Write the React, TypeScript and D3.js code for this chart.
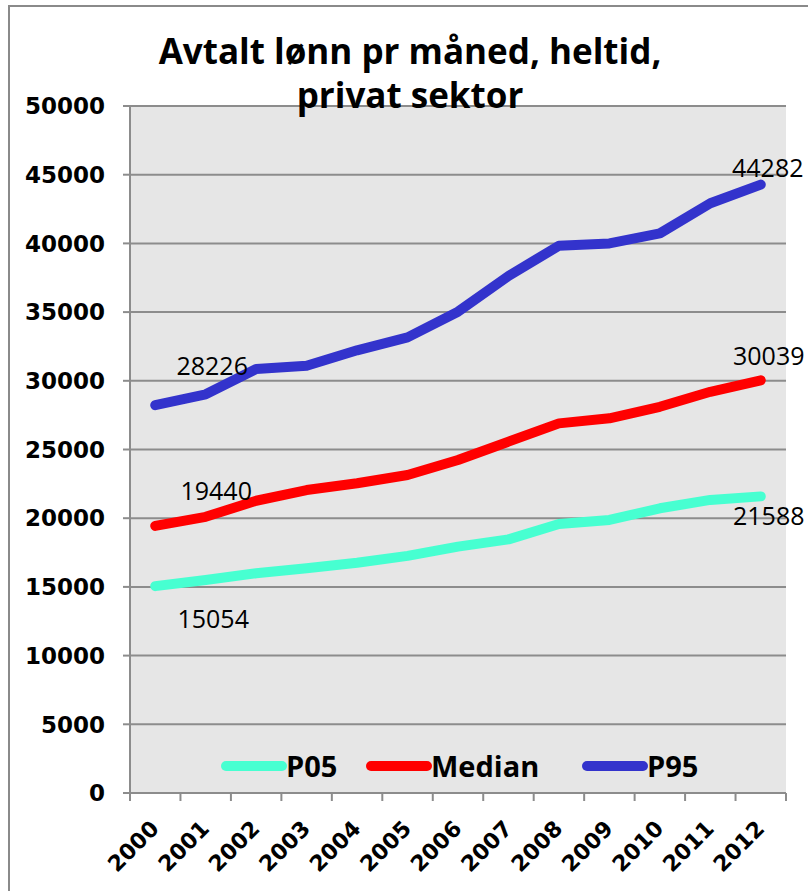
import React from "react";
import * as d3 from "d3";

const years = ["2000","2001","2002","2003","2004","2005","2006","2007","2008","2009","2010","2011","2012"];
const p05 = [15054, 15500, 15990, 16350, 16760, 17260, 17930, 18460, 19580, 19870, 20720, 21330, 21588];
const median = [19440, 20100, 21270, 22050, 22540, 23140, 24240, 25570, 26900, 27270, 28110, 29200, 30039];
const p95 = [28226, 29017, 30860, 31100, 32220, 33160, 35030, 37630, 39830, 40000, 40730, 42920, 44282];
const yTicks = [0, 5000, 10000, 15000, 20000, 25000, 30000, 35000, 40000, 45000, 50000];
const seriesNames = ["P05", "Median", "P95"];
const titleLines = ["Avtalt lønn pr måned, heltid,", "privat sektor"];

const colors = ["#47FFD1", "#FF0000", "#3333CC"];
// label offsets (first, last) relative to point
const firstLabelOffset = [[58, 42], [61, -26], [57, -30]];
const lastLabelOffset = [[8, 29], [8, -15], [7, -8]];
const legendX = [226, 371, 587];

const W = 808, H = 891;
const plot = { left: 130, right: 786, top: 106, bottom: 793 };
const axisFont = "'DejaVu Sans', sans-serif";
const mainFont = "'Open Sans', sans-serif";

export default function App() {
  const x = d3.scaleBand<string>().domain(years).range([plot.left, plot.right]);
  const y = d3.scaleLinear().domain([0, 50000]).range([plot.bottom, plot.top]);
  const cx = (yr: string) => (x(yr) as number) + x.bandwidth() / 2;
  const line = d3.line<number>().x((_, i) => cx(years[i])).y((v) => y(v));
  const all = [p05, median, p95];
  const boundaries = d3.range(years.length + 1).map((i) => plot.left + i * x.bandwidth());

  return (
    <svg width={W} height={H} style={{ position: "absolute", left: 0, top: 0, background: "#fff" }}>
      <rect x={9} y={6} width={W + 20} height={H + 20} fill="#fff" stroke="#8a8a8a" strokeWidth={2} />
      <rect x={plot.left} y={plot.top} width={plot.right - plot.left} height={plot.bottom - plot.top} fill="#E6E6E6" />
      {yTicks.map((t) => (
        <g key={t}>
          <line x1={plot.left} x2={plot.right} y1={y(t)} y2={y(t)} stroke="#8c8c8c" strokeWidth={2} />
          <line x1={plot.left - 7} x2={plot.left} y1={y(t)} y2={y(t)} stroke="#8c8c8c" strokeWidth={2} />
          <text x={105} y={y(t)} dy="0.36em" textAnchor="end" fontFamily={axisFont} fontWeight="bold" fontSize={23} fill="#000">{t}</text>
        </g>
      ))}
      <line x1={plot.left} x2={plot.left} y1={plot.top} y2={plot.bottom} stroke="#8c8c8c" strokeWidth={2} />
      <line x1={plot.left} x2={plot.right} y1={plot.bottom} y2={plot.bottom} stroke="#8c8c8c" strokeWidth={2} />
      {boundaries.map((b, i) => (
        <line key={i} x1={b} x2={b} y1={plot.bottom} y2={plot.bottom + 8} stroke="#8c8c8c" strokeWidth={2} />
      ))}
      {years.map((yr) => (
        <text key={yr} transform={`translate(${cx(yr) + 5},${830}) rotate(-45)`} textAnchor="end" fontFamily={axisFont} fontWeight="bold" fontSize={22} fill="#000">{yr}</text>
      ))}
      {all.map((s, si) => (
        <path key={si} d={line(s) as string} fill="none" stroke={colors[si]} strokeWidth={10} strokeLinecap="round" strokeLinejoin="round" />
      ))}
      {all.map((s, si) => (
        <g key={"l" + si}>
          <text x={cx(years[0]) + firstLabelOffset[si][0]} y={y(s[0]) + firstLabelOffset[si][1]} textAnchor="middle" fontFamily={mainFont} fontSize={25} fill="#000">{s[0]}</text>
          <text x={cx(years[years.length - 1]) + lastLabelOffset[si][0]} y={y(s[s.length - 1]) + lastLabelOffset[si][1]} textAnchor="middle" fontFamily={mainFont} fontSize={25} fill="#000">{s[s.length - 1]}</text>
        </g>
      ))}
      {seriesNames.map((n, i) => (
        <g key={n}>
          <line x1={legendX[i]} x2={legendX[i] + 56} y1={766} y2={766} stroke={colors[i]} strokeWidth={10} strokeLinecap="round" />
          <text x={legendX[i] + 60} y={777} fontFamily={mainFont} fontWeight="bold" fontSize={29} fill="#000">{n}</text>
        </g>
      ))}
      {titleLines.map((t, i) => (
        <text key={i} x={410} y={64 + i * 44} textAnchor="middle" fontFamily={mainFont} fontWeight="bold" fontSize={35} fill="#000">{t}</text>
      ))}
    </svg>
  );
}
